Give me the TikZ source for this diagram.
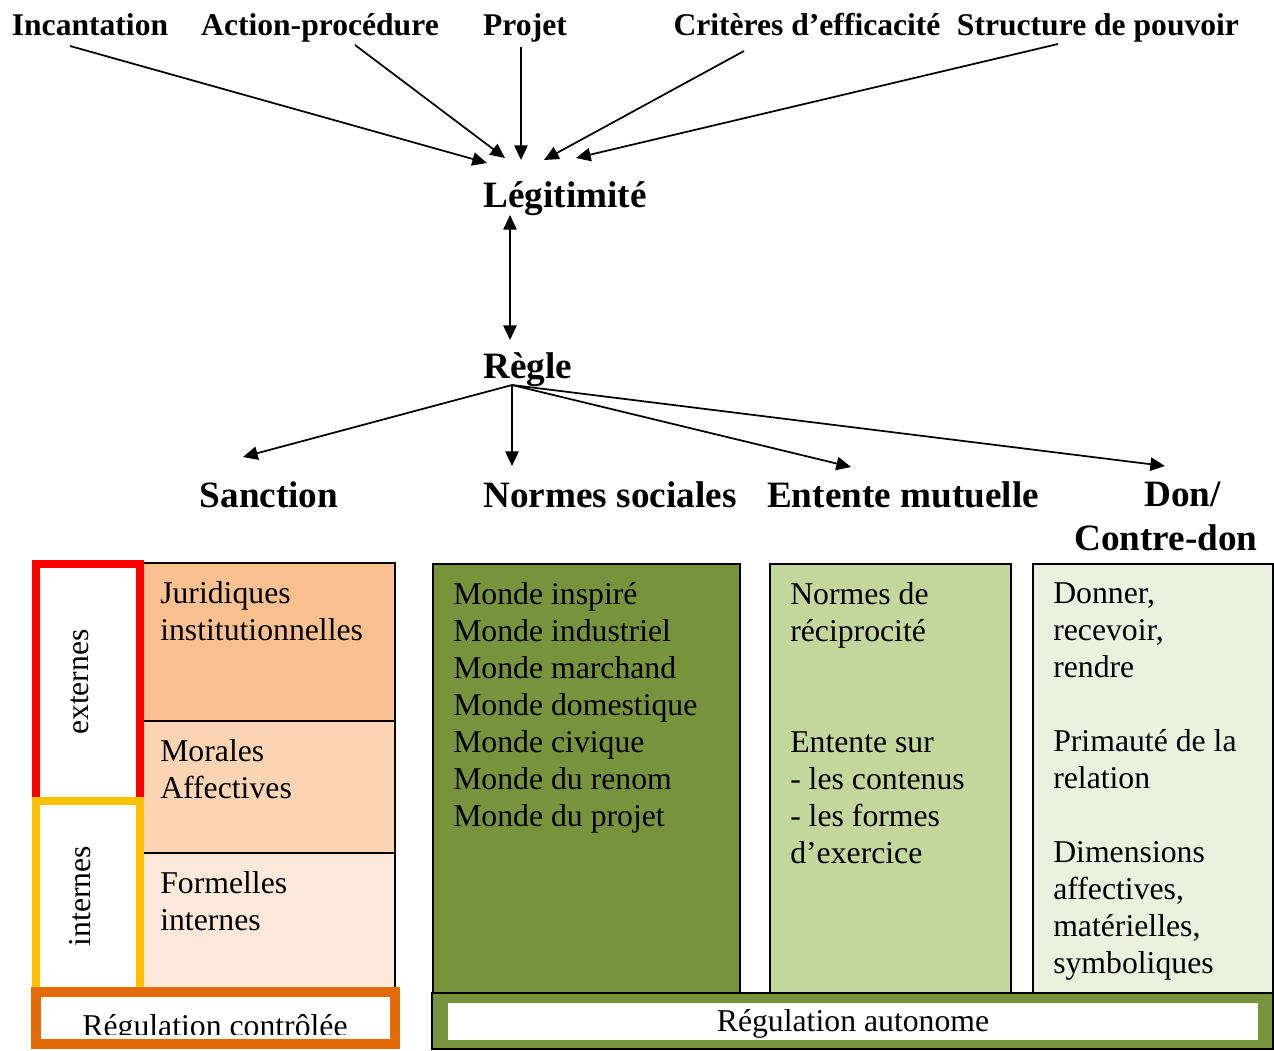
\documentclass[tikz,border=0pt]{standalone}
\usepackage{fontspec}
\setmainfont{Liberation Serif}
\usetikzlibrary{positioning,arrows.meta,calc}
\usepackage{xcolor}
\definecolor{peachDark}{HTML}{FAC090}
\definecolor{peachMid}{HTML}{FBD4B4}
\definecolor{peachLight}{HTML}{FDE9D9}
\definecolor{oliveDark}{HTML}{77933C}
\definecolor{oliveMid}{HTML}{C3D69B}
\definecolor{oliveLight}{HTML}{EBF1DE}
\definecolor{extRed}{HTML}{FF0000}
\definecolor{intYellow}{HTML}{FFC000}
\definecolor{ctrlOrange}{HTML}{E36C09}

\tikzset{
  head/.style={font=\fontsize{23.7}{28}\selectfont\bfseries, inner sep=0pt, anchor=base},
  bighead/.style={font=\fontsize{27.9}{32.3}\selectfont\bfseries, inner sep=0pt, anchor=base},
  boxtext/.style={font=\fontsize{23.8}{27.75}\selectfont, inner sep=0pt, anchor=base west, align=left},
  arr/.style={-{Triangle[length=11pt,width=10pt]}, line width=1.3pt},
  cell/.style={draw, line width=1.2pt},
}

\begin{document}
\begin{tikzpicture}[x=0.75pt, y=-0.75pt]
\useasboundingbox (0,0) rectangle (1274,1050);

% sources of legitimacy
\node[head] (inc) at (90,35) {Incantation};
\node[head] (act) at (320,35) {Action-procédure};
\node[head] (proj) at (525,35) {Projet};
\node[head] (crit) at (807,35) {Critères d’efficacité};
\node[head] (pouv) at (1098,35) {Structure de pouvoir};

\node[bighead] (legit) at (565,207) {Légitimité};
\node[bighead] (regle) at (528,378) {Règle};

\coordinate (t1) at (487,163);
\coordinate (t2) at (505,158);
\coordinate (t3) at (521,160);
\coordinate (t4) at (544,160);
\coordinate (t5) at (576,158);
\draw[arr] ($(inc.base)+(-20,11)$) -- (t1);
\draw[arr] ($(act.base)+(35,10)$) -- (t2);
\draw[arr] ($(proj.base)+(-4,12)$) -- (t3);
\draw[arr] ($(crit.base)+(-63,16)$) -- (t4);
\draw[arr] ($(pouv.base)+(-40,9)$) -- (t5);

\draw[arr, {Triangle[length=11pt,width=10pt]}-{Triangle[length=11pt,width=10pt]}] ($(legit.base)+(-55,8)$) -- ($(regle.base)+(-18,-38)$);

% kinds of rules
\node[bighead] (sanct) at (269,507) {Sanction};
\node[bighead] (normes) at (610,507) {Normes sociales};
\node[bighead] (entente) at (903,507) {Entente mutuelle};
\node[bighead, align=center] (don) at (1166,550) {\hspace*{25pt}Don/\\Contre-don};

\coordinate (hub) at ($(regle.base)+(-16,7)$);
\coordinate (tS) at (243,457);
\coordinate (tN) at (512,466);
\coordinate (tE) at (851,467);
\coordinate (tD) at (1165,466);
\foreach \t in {tS,tN,tE,tD}
  \draw[arr] (hub) -- (\t);

% sanction table (text nodes are placed by their last baseline)
\draw[cell, fill=peachDark] (143,563) rectangle (395,721);
\draw[cell, fill=peachMid] (143,721) rectangle (395,853);
\draw[cell, fill=peachLight] (143,853) rectangle (395,990);
\node[boxtext] (jur) at (160,640) {Juridiques\\institutionnelles};
\node[boxtext] (mor) at (160,798) {Morales\\Affectives};
\node[boxtext] (form) at (160,930) {Formelles\\internes};

\draw[extRed, line width=6pt] (36,563.5) rectangle (140,801);
\draw[intYellow, line width=6pt] (36,801) rectangle (140,991);
\node[boxtext, rotate=90, anchor=center] (ext) at (80,682) {externes};
\node[boxtext, rotate=90, anchor=center] (int) at (80,896) {internes};

\draw[ctrlOrange, line width=7.5pt, fill=white] (36,991.5) rectangle (395,1044);
\begin{scope}
  \clip (41,996) rectangle (390,1034);
  \node[boxtext, anchor=base] (ctrl) at (215,1036) {Régulation contrôlée};
\end{scope}

% green columns
\draw[cell, fill=oliveDark] (433,564) rectangle (740,993);
\draw[cell, fill=oliveMid] (770,564) rectangle (1011,993);
\draw[cell, fill=oliveLight] (1033,564) rectangle (1273,993);
\node[boxtext] (mondes) at (453,826) {Monde inspiré\\Monde industriel\\Monde marchand\\Monde domestique\\Monde civique\\Monde du renom\\Monde du projet};
\node[boxtext] (recip) at (790,863) {Normes de\\réciprocité\\[55.5pt]Entente sur\\- les contenus\\- les formes\\d’exercice};
\node[boxtext] (donner) at (1053,973) {Donner,\\recevoir,\\rendre\\[27.75pt]Primauté de la\\relation\\[27.75pt]Dimensions\\affectives,\\matérielles,\\symboliques};

\draw[cell, fill=oliveDark] (432,993) rectangle (1273,1049);
\fill[white] (448,1003) rectangle (1258,1040);
\node[boxtext, anchor=base] (auto) at (853,1031) {Régulation autonome};
\end{tikzpicture}
\end{document}
